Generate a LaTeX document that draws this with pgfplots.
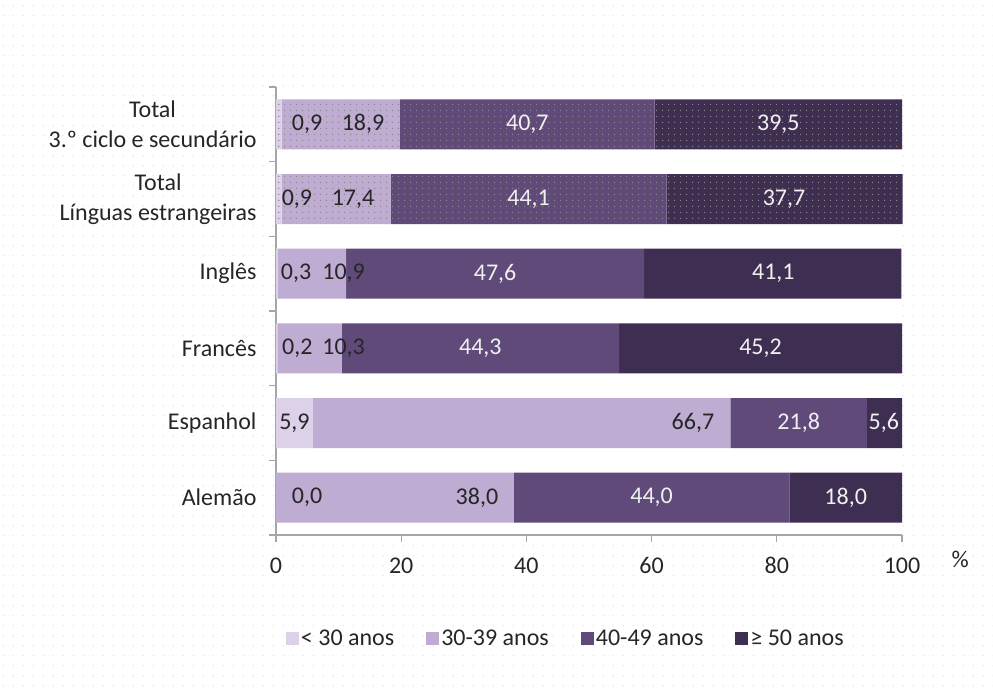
\documentclass[border=0pt]{standalone}
\usepackage{fontspec}
\setmainfont{Carlito}
\usepackage{pgfplots}
\pgfplotsset{compat=1.18}
\usetikzlibrary{patterns.meta}
\definecolor{cA}{HTML}{DDD0E9}
\definecolor{cB}{HTML}{BEACD3}
\definecolor{cC}{HTML}{5F4A7A}
\definecolor{cD}{HTML}{3E2E52}
\definecolor{axgray}{HTML}{A6A6A6}
\definecolor{txt}{HTML}{262626}
\definecolor{dotc}{HTML}{8F8589}
\pgfdeclarepattern{name=bgdots, type=uncolored, bottom left={\pgfpoint{0pt}{0pt}}, top right={\pgfpoint{10pt}{10pt}}, tile size={\pgfpoint{10pt}{10pt}}, code={\pgfpathrectangle{\pgfpoint{4pt}{4pt}}{\pgfpoint{1.4pt}{1.4pt}}\pgfusepath{fill}}}
\pgfdeclarepattern{name=bardots, type=uncolored, bottom left={\pgfpoint{0pt}{0pt}}, top right={\pgfpoint{6pt}{6pt}}, tile size={\pgfpoint{6pt}{6pt}}, code={\pgfpathrectangle{\pgfpoint{2.4pt}{2.4pt}}{\pgfpoint{1.2pt}{1.2pt}}\pgfusepath{fill}}}
\tikzset{lab/.style={font=\fontsize{24}{28}\selectfont, text=txt}, wlab/.style={font=\fontsize{24}{28}\selectfont, text=white!94!black}}
\pgfplotsset{geom/.style={at={(276pt,154pt)}, anchor=south west,
  scale only axis, width=626pt, height=448pt,
  xmin=0, xmax=100, ymin=-0.5, ymax=5.5, clip=false}}
\begin{document}
\begin{tikzpicture}
\fill[white] (0pt,0pt) rectangle (993pt,689pt);
\fill[pattern=bgdots, pattern color=black!9] (0pt,0pt) rectangle (993pt,689pt);
\begin{axis}[
  geom,
  xbar stacked, bar width=50pt,
  axis background/.style={fill=white},
  axis x line*=bottom, axis y line*=left,
  axis line style={draw=axgray, line width=1.2pt},
  xtick={0,20,...,100},
  tick align=outside,
  major tick length=7pt, minor tick length=7pt,
  major x tick style={draw=axgray, line width=1.2pt},
  ytick={0,...,5},
  major y tick style={draw=none},
  minor ytick={-0.5,0.5,...,5.5},
  minor y tick style={draw=axgray, line width=1.2pt},
  yticklabels={Alemão, Espanhol, Francês, Inglês, {Total\\Línguas estrangeiras}, {Total\\3.º ciclo e secundário}},
  yticklabel style={align=center, xshift=-9pt},
  xticklabel style={yshift=-12pt},
  ticklabel style={font=\fontsize{24}{30}\selectfont, text=txt},
  /pgf/number format/assume math mode=true,
  legend style={at={(rel axis cs:0.463,-0.23)}, anchor=center, draw=none, fill=none,
    font=\fontsize{24}{28}\selectfont, text=txt,
    /tikz/every even column/.append style={column sep=30pt}},
  legend columns=4,
  legend cell align=left,
  legend image code/.code={\fill[#1] (0pt,-6.5pt) rectangle (13pt,6.5pt);},
]
\addplot[fill=cA, draw=none] coordinates {(0.0,0) (5.9,1) (0.2,2) (0.3,3) (0.9,4) (0.9,5)};
\addplot[fill=cB, draw=none] coordinates {(38.0,0) (66.7,1) (10.3,2) (10.9,3) (17.4,4) (18.9,5)};
\addplot[fill=cC, draw=none] coordinates {(44.0,0) (21.8,1) (44.3,2) (47.6,3) (44.1,4) (40.7,5)};
\addplot[fill=cD, draw=none] coordinates {(18.0,0) (5.6,1) (45.2,2) (41.1,3) (37.7,4) (39.5,5)};
\legend{< 30 anos, 30-39 anos, 40-49 anos, ≥ 50 anos}
\end{axis}
% dotted texture on the two total bars
\begin{axis}[geom, hide axis, xbar stacked, bar width=50pt]
\addplot[pattern=bardots, pattern color=dotc, draw=none] coordinates {(0.9,4) (0.9,5)};
\addplot[pattern=bardots, pattern color=dotc, draw=none] coordinates {(17.4,4) (18.9,5)};
\addplot[pattern=bardots, pattern color=dotc, draw=none] coordinates {(44.1,4) (40.7,5)};
\addplot[pattern=bardots, pattern color=dotc, draw=none] coordinates {(37.7,4) (39.5,5)};
\end{axis}
\begin{axis}[geom, hide axis]
% Total 3.o ciclo
\node[lab] at (axis cs:4.95,5) {0,9};
\node[lab] at (axis cs:13.9,5) {18,9};
\node[wlab] at (axis cs:40.15,5) {40,7};
\node[wlab] at (axis cs:80.25,5) {39,5};
% Total LE
\node[lab] at (axis cs:3.35,4) {0,9};
\node[lab] at (axis cs:12.3,4) {17,4};
\node[wlab] at (axis cs:40.35,4) {44,1};
\node[wlab] at (axis cs:81.15,4) {37,7};
% Ingles
\node[lab] at (axis cs:3.2,3) {0,3};
\node[lab] at (axis cs:10.8,3) {10,9};
\node[wlab] at (axis cs:35.0,3) {47,6};
\node[wlab] at (axis cs:79.45,3) {41,1};
% Frances
\node[lab] at (axis cs:3.4,2) {0,2};
\node[lab] at (axis cs:10.8,2) {10,3};
\node[wlab] at (axis cs:32.65,2) {44,3};
\node[wlab] at (axis cs:77.4,2) {45,2};
% Espanhol
\node[lab] at (axis cs:2.95,1) {5,9};
\node[lab] at (axis cs:66.6,1) {66,7};
\node[wlab] at (axis cs:83.5,1) {21,8};
\node[wlab] at (axis cs:97.1,1) {5,6};
% Alemao
\node[lab] at (axis cs:4.95,0) {0,0};
\node[lab] at (axis cs:32.1,0) {38,0};
\node[wlab] at (axis cs:60.0,0) {44,0};
\node[wlab] at (axis cs:91.0,0) {18,0};
\node[lab] at (rel axis cs:1.093,0) [yshift=-24pt] {\%};
\end{axis}
\end{tikzpicture}
\end{document}
